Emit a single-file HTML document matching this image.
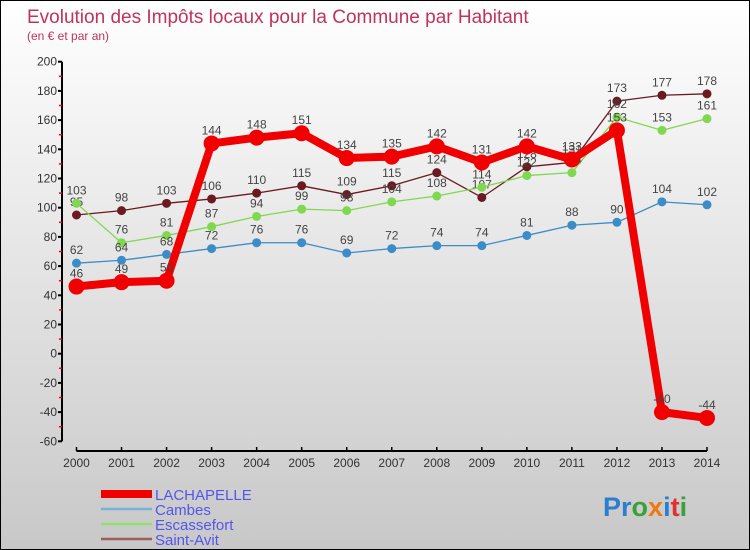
<!DOCTYPE html>
<html><head><meta charset="utf-8"><style>
body{margin:0}
#c{width:750px;height:550px;position:relative;background:linear-gradient(#fff,#c8c8c8);box-sizing:border-box;border:1px solid #000;font-family:"Liberation Sans",sans-serif;overflow:hidden}
svg{position:absolute;left:0;top:0}
</style></head><body>
<div id="c">
<svg id="s" width="750" height="550">
<text x="26" y="22" font-size="19" fill="#c0335a">Evolution des Impôts locaux pour la Commune par Habitant</text>
<text x="26" y="39" font-size="12" fill="#c0335a">(en € et par an)</text>
<text x="602" y="515" font-size="27" font-weight="bold"><tspan fill="#2a7fd0">Pr</tspan><tspan fill="#3aa03a">o</tspan><tspan fill="#f07810">x</tspan><tspan fill="#2a7fd0">i</tspan><tspan fill="#e03030">t</tspan><tspan fill="#3aa03a">i</tspan></text>
</svg>
</div>
<script>
const years=[2000,2001,2002,2003,2004,2005,2006,2007,2008,2009,2010,2011,2012,2013,2014];
const yTicks=[200,180,160,140,120,100,80,60,40,20,0,-20,-40,-60];
const saintAvit=[95,98,103,106,110,115,109,115,124,107,128,131,173,177,178];
const escassefort=[103,76,81,87,94,99,98,104,108,114,122,124,162,153,161];
const cambes=[62,64,68,72,76,76,69,72,74,74,81,88,90,104,102];
const lachapelle=[46,49,50,144,148,151,134,135,142,131,142,133,153,-40,-44];
const NS="http://www.w3.org/2000/svg",s=document.getElementById('s');
const X=i=>75.5+i*(706-75.5)/(years.length-1);
const Y=v=>352.7-v*1.46;
function el(t,a){const e=document.createElementNS(NS,t);for(const k in a)e.setAttribute(k,a[k]);s.appendChild(e);return e;}
let e=el('line',{x1:61,y1:Y(200),x2:61,y2:Y(-60),stroke:'#000','stroke-width':2});

e=el('line',{x1:X(0),y1:450,x2:X(14),y2:450,stroke:'#000','stroke-width':2});

yTicks.forEach(v=>{
 e=el('line',{x1:57,y1:Y(v),x2:61,y2:Y(v),stroke:'#000','stroke-width':2});
 
 if(v>-60){e=el('line',{x1:58,y1:Y(v-10),x2:61,y2:Y(v-10),stroke:'#f00','stroke-width':1.5});
 }
 e=el('text',{x:56,y:Y(v)+4,'font-size':12,fill:'#333','text-anchor':'end'});e.textContent=v;
 
});
years.forEach((yr,i)=>{
 e=el('line',{x1:X(i),y1:446,x2:X(i),y2:450,stroke:'#000','stroke-width':1.5});
 
 e=el('text',{x:X(i),y:466,'font-size':12,fill:'#333','text-anchor':'middle'});e.textContent=yr;
 
});
function series(d,col,w,r,name){
 e=el('polyline',{points:d.map((v,i)=>X(i)+','+Y(v)).join(' '),fill:'none',stroke:col,'stroke-width':w,'stroke-linejoin':'round'});
 
 d.forEach((v,i)=>{
  e=el('circle',{cx:X(i),cy:Y(v),r:r,fill:col});
  
  e=el('text',{x:X(i),y:Y(v)-9,'font-size':12,fill:'#444','text-anchor':'middle'});e.textContent=v;
  
 });
}
series(saintAvit,'#6a1a20',1.3,4.5,'saint-avit');
series(escassefort,'#80d850',1.3,4.5,'escassefort');
series(cambes,'#3c8cc8',1.3,4.5,'cambes');
series(lachapelle,'#f00000',8,8,'lachapelle');
const legend=[['LACHAPELLE','#f00000',8],['Cambes','#7ab0d8',2.5],['Escassefort','#90e070',2.5],['Saint-Avit','#9a6060',2.5]];
legend.forEach((l,i)=>{
 const y=493+i*15;
 e=el('line',{x1:100,y1:y,x2:151,y2:y,stroke:l[1],'stroke-width':l[2]});
 
 e=el('text',{x:154,y:y+6,'font-size':15,fill:'#5555ee'});e.textContent=l[0];
 
});
</script>
</body></html>
